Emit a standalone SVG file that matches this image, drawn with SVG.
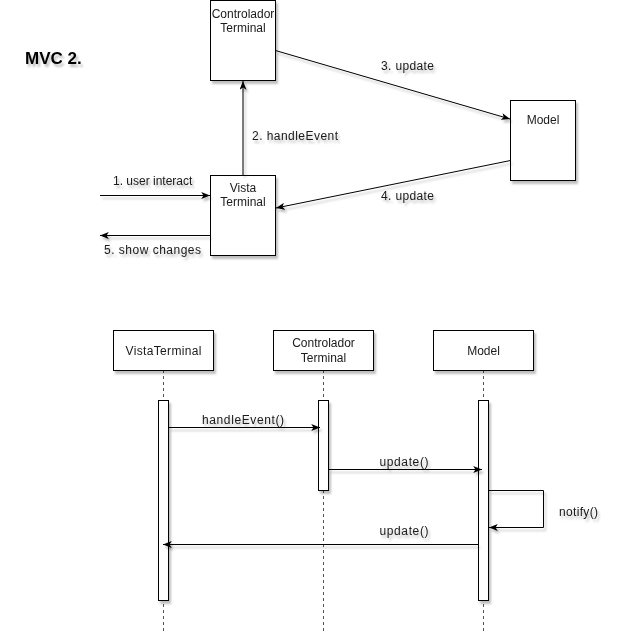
<svg xmlns="http://www.w3.org/2000/svg" width="620" height="642" viewBox="0 0 620 642">
  <style>
    .box { fill: #ffffff; stroke: #000000; stroke-width: 1; }
    .bar { fill: #ffffff; stroke: #000000; stroke-width: 1; }
    .t { font-family: "Liberation Sans", Arial, sans-serif; font-size: 12px; fill: #1a1a1a; }
    .c { text-anchor: middle; }
    .edge { fill: none; stroke: #000000; stroke-width: 1; }
    .life { fill: none; stroke: #555555; stroke-width: 1; stroke-dasharray: 3 3; }
    .title { font-family: "Liberation Sans", Arial, sans-serif; font-size: 17px; font-weight: bold; fill: #000000; }
  </style>
  <defs>
    <filter id="sh" x="-20%" y="-20%" width="150%" height="150%">
      <feDropShadow dx="2" dy="3" stdDeviation="1.2" flood-color="#000000" flood-opacity="0.25"/>
    </filter>
    <marker id="arr" viewBox="0 0 10 8" refX="10" refY="4" markerWidth="9" markerHeight="7" markerUnits="userSpaceOnUse" orient="auto">
      <path d="M0,0 L10,4 L0,8 L2.5,4 Z" fill="#000000"/>
    </marker>
  </defs>
  <rect width="620" height="642" fill="#ffffff"/>

  <g id="title" filter="url(#sh)">
    <text class="title" x="25" y="64">MVC 2.</text>
  </g>

  <!-- Top diagram nodes -->
  <g id="controlador-top" filter="url(#sh)">
    <rect class="box" x="210.5" y="0.5" width="65" height="80"/>
    <text class="t c" x="243" y="17.5">Controlador</text>
    <text class="t c" x="243" y="32">Terminal</text>
  </g>
  <g id="model-top" filter="url(#sh)">
    <rect class="box" x="510.5" y="100.5" width="65" height="80"/>
    <text class="t c" x="543" y="123.5">Model</text>
  </g>
  <g id="vista-top" filter="url(#sh)">
    <rect class="box" x="210.5" y="175.5" width="65" height="80"/>
    <text class="t c" x="243" y="192">Vista</text>
    <text class="t c" x="243" y="206">Terminal</text>
  </g>

  <!-- Top diagram connectors -->
  <g id="connectors-top" filter="url(#sh)">
    <path class="edge" d="M100,195.5 H210" marker-end="url(#arr)"/>
    <text class="t" x="113" y="185">1. user interact</text>
    <path class="edge" d="M243,175 V81" stroke="#555555" stroke-width="1.5" marker-end="url(#arr)"/>
    <text class="t" x="252" y="140" textLength="86">2. handleEvent</text>
    <path class="edge" d="M275.5,50.5 L510,119" marker-end="url(#arr)"/>
    <text class="t" x="381" y="70" textLength="53">3. update</text>
    <path class="edge" d="M510.5,160.5 L276,208" marker-end="url(#arr)"/>
    <text class="t" x="381" y="200" textLength="53">4. update</text>
    <path class="edge" d="M210,235.5 H100" marker-end="url(#arr)"/>
    <text class="t" x="104" y="254" textLength="97">5. show changes</text>
  </g>

  <!-- Sequence diagram lifelines -->
  <g id="lifelines">
    <path class="life" d="M163.5,370 V632"/>
    <path class="life" d="M323.5,370 V632"/>
    <path class="life" d="M483.5,370 V632"/>
  </g>

  <!-- Sequence participants -->
  <g id="seq-vista" filter="url(#sh)">
    <rect class="box" x="113.5" y="330.5" width="100" height="40"/>
    <text class="t c" x="163.5" y="355" textLength="76">VistaTerminal</text>
    <rect class="bar" x="158.5" y="400.5" width="10" height="200"/>
  </g>
  <g id="seq-controlador" filter="url(#sh)">
    <rect class="box" x="273.5" y="330.5" width="100" height="40"/>
    <text class="t c" x="323.5" y="347">Controlador</text>
    <text class="t c" x="323.5" y="362">Terminal</text>
    <rect class="bar" x="318.5" y="400.5" width="10" height="90"/>
  </g>
  <g id="seq-model" filter="url(#sh)">
    <rect class="box" x="433.5" y="330.5" width="100" height="40"/>
    <text class="t c" x="483.5" y="355">Model</text>
    <rect class="bar" x="478.5" y="400.5" width="10" height="200"/>
  </g>

  <!-- Sequence messages -->
  <g id="connectors-seq" filter="url(#sh)">
    <path class="edge" d="M168.5,427.5 H320" marker-end="url(#arr)"/>
    <text class="t c" x="243" y="424" textLength="82">handleEvent()</text>
    <path class="edge" d="M328.5,469.5 H482" marker-end="url(#arr)"/>
    <text class="t c" x="404" y="466" textLength="49">update()</text>
    <path class="edge" d="M488.5,490.5 H543.5 V527.5 H489" marker-end="url(#arr)"/>
    <text class="t" x="559" y="516" textLength="39">notify()</text>
    <path class="edge" d="M478.5,544.5 H163" marker-end="url(#arr)"/>
    <text class="t c" x="404" y="535" textLength="49">update()</text>
  </g>
</svg>
